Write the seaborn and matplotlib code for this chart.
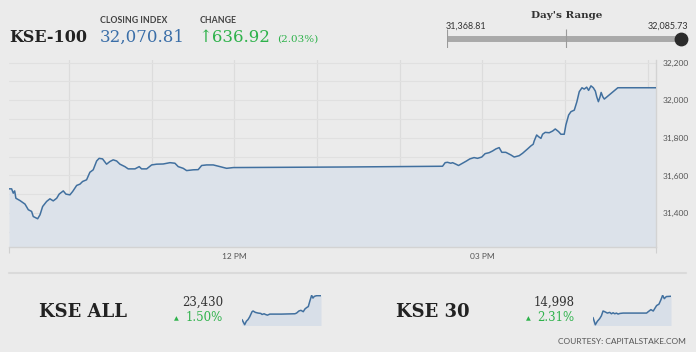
import matplotlib
matplotlib.use("Agg")
import matplotlib.pyplot as plt
from matplotlib.lines import Line2D
from matplotlib.patches import Rectangle
from matplotlib.ticker import FuncFormatter, MultipleLocator
import seaborn as sns
import pandas as pd

# ---------------- data ----------------
# KSE-100 intraday, minutes after 09:00
kse100_minutes = [
    16.5, 18.4, 19.6, 20.6, 21.5, 24.4, 28.1, 30.5, 32.9, 34.1, 37.3, 39.0, 40.9, 43.8,
    46.2, 48.6, 51.1, 52.9, 55.9, 57.8, 60.7, 62.7, 65.6, 68.0, 69.9, 72.8, 75.2, 77.6,
    80.1, 81.9, 84.4, 87.3, 89.7, 92.1, 94.6, 97.0, 100.6, 103.0, 107.9, 111.0, 112.7,
    116.4, 120.0, 123.6, 128.4, 133.3, 136.9, 139.3, 142.9, 145.4, 150.2, 153.8, 156.3,
    159.9, 164.7, 169.6, 174.4, 179.3,
    261.0, 331.1, 333.0, 334.7, 337.1, 338.4, 340.8, 342.7, 345.6, 348.5, 350.9, 354.0,
    356.5, 359.6, 362.0, 364.9, 367.4, 369.8, 372.2, 374.1, 377.0, 380.7, 383.1, 386.7,
    389.2, 392.8, 395.2, 396.9, 397.6, 399.4, 400.8, 402.5, 403.7, 405.6, 408.5, 411.0,
    412.9, 415.3, 417.0, 419.4, 420.6, 422.6, 424.3, 426.7, 428.6, 430.3, 432.3, 433.9,
    435.7, 437.1, 438.8, 440.5, 442.0, 443.0, 444.2, 445.4, 446.2, 447.4, 448.5, 458.3, 486.0,
]
kse100_values = [
    31529, 31529, 31506, 31518, 31479, 31467, 31448, 31418, 31409, 31382, 31370, 31391,
    31435, 31462, 31476, 31465, 31479, 31501, 31518, 31501, 31497, 31515, 31547, 31554,
    31568, 31577, 31617, 31630, 31677, 31691, 31688, 31660, 31674, 31683, 31677, 31660,
    31647, 31635, 31635, 31647, 31635, 31635, 31656, 31660, 31661, 31668, 31665, 31647,
    31638, 31626, 31630, 31631, 31653, 31656, 31656, 31647, 31638, 31642,
    31645, 31649, 31668, 31670, 31665, 31668, 31660, 31653, 31665, 31677, 31688, 31695,
    31691, 31698, 31716, 31721, 31730, 31741, 31748, 31723, 31723, 31709, 31698, 31705,
    31718, 31741, 31757, 31766, 31783, 31815, 31806, 31797, 31819, 31829, 31827, 31836,
    31847, 31833, 31819, 31819, 31868, 31921, 31939, 31947, 31992, 32045, 32066, 32059,
    32069, 32052, 32076, 32066, 32048, 32018, 31992, 32018, 32041, 32018, 32006, 32066, 32066,
]

# sparklines
kseall_minutes = [16.5, 32.4, 42.4, 52.3, 62.3, 76.2, 82.2, 96.1, 112.0, 127.9, 135.9, 147.8,
                  155.8, 167.7, 181.6, 201.5, 251.3, 330.8, 340.8, 354.7, 366.6, 380.6, 390.5,
                  400.4, 410.4, 420.3, 430.3, 438.3, 446.2, 460.1, 486.0]
kseall_values = [23084, 23010, 23060, 23084, 23124, 23198, 23208, 23188, 23178, 23173, 23158,
                 23168, 23158, 23148, 23163, 23163, 23163, 23168, 23178, 23208, 23218, 23198,
                 23237, 23257, 23272, 23356, 23435, 23395, 23420, 23430, 23430]
kse30_minutes = [16.5, 30.6, 42.7, 56.8, 66.9, 77.0, 87.0, 103.1, 117.3, 127.3, 137.4, 147.5,
                 157.6, 167.6, 177.7, 197.9, 268.4, 338.9, 349.0, 365.1, 379.2, 389.3, 399.4,
                 413.5, 425.5, 435.6, 445.7, 457.8, 486.0]
kse30_values = [14659, 14544, 14599, 14642, 14686, 14763, 14752, 14730, 14741, 14719, 14735,
                14719, 14730, 14714, 14724, 14730, 14730, 14730, 14752, 14785, 14763, 14807,
                14850, 14872, 14943, 15014, 14960, 14993, 14998]

day_low, day_high, close_value = 31368.81, 32085.73, 32070.81
hour_ticks = [60, 120, 180, 240, 300, 360, 420, 480]
hour_labels = ["", "", "12 PM", "", "", "03 PM", "", ""]
y_ticks = [31400, 31600, 31800, 32000, 32200]

# ---------------- style ----------------
BG = "#ebebeb"
LINE = "#41709f"
FILL = "#dce2ea"
GREEN = "#2eb24b"
BLUE = "#3a6ea8"
GRID = "#dcdcdc"

sns.set_theme(style="white", rc={"axes.facecolor": BG, "figure.facecolor": BG})

W, H = 696, 356
fig = plt.figure(figsize=(W / 100, H / 100), dpi=100)


def px_axes(x0, y0, x1, y1):
    return fig.add_axes([x0 / W, 1 - y1 / H, (x1 - x0) / W, (y1 - y0) / H])


def txt(x, y, s, **kw):
    fig.text(x / W, 1 - y / H, s, va="baseline", **kw)


# ---------------- main chart ----------------
ax = px_axes(9, 59.7, 656, 247)
df = pd.DataFrame({"minute": kse100_minutes, "value": kse100_values})
ymin, ymax = 31220, 32215
ax.fill_between(df["minute"], df["value"], ymin, color=FILL, lw=0, zorder=1)
sns.lineplot(data=df, x="minute", y="value", ax=ax, color=LINE, linewidth=1.1, zorder=3)
ax.set_xlim(df["minute"].min(), df["minute"].max())
ax.set_ylim(ymin, ymax)
ax.set_xlabel("")
ax.set_ylabel("")

ax.set_xticks(hour_ticks)
ax.set_xticklabels(hour_labels)
ax.set_xticks([df["minute"].min(), df["minute"].max()], minor=True)
ax.tick_params(axis="x", which="major", length=0, pad=4, labelsize=6, labelcolor="#555")
ax.tick_params(axis="x", which="minor", length=4, width=0.8, color="#d0d0d0", bottom=True)
for lab in ax.get_xticklabels():
    lab.set_family("Lato")

ax.yaxis.tick_right()
ax.set_yticks(y_ticks)
ax.yaxis.set_minor_locator(MultipleLocator(100))
ax.yaxis.set_major_formatter(FuncFormatter(lambda v, p: f"{int(v):,}"))
ax.tick_params(axis="y", which="both", length=0, pad=5, labelsize=6, labelcolor="#555")
for lab in ax.get_yticklabels():
    lab.set_family("Lato")

ax.grid(True, axis="x", which="major", color=GRID, lw=0.9)
ax.grid(True, axis="y", which="both", color="#e0e0e0", lw=0.8)
ax.set_axisbelow(True)
for side in ["top", "left"]:
    ax.spines[side].set_visible(False)
for side in ["right", "bottom"]:
    ax.spines[side].set_color("#d3d3d3")
    ax.spines[side].set_linewidth(1.0)

# ---------------- header ----------------
SERIF = ["DejaVu Serif", "DejaVu Sans"]
txt(9, 41.7, "KSE-100", family=SERIF, weight="bold", size=11.5, color="#222")
txt(100, 22.7, "CLOSING INDEX", family="Lato", weight="bold", size=6.3, color="#444")
txt(100, 42.3, "32,070.81", family=SERIF, size=12, color=BLUE)
txt(200, 22.7, "CHANGE", family="Lato", weight="bold", size=6.3, color="#444")
txt(198, 42.3, "\u2191636.92", family=SERIF, size=12, color=GREEN)
txt(277, 41.5, "(2.03%)", family=SERIF, size=7.5, color=GREEN)

txt(566.5, 18, "Day's Range", family=SERIF, weight="bold", size=7.5, color="#333", ha="center")
txt(446, 28.3, f"{day_low:,.2f}", family="Lato", size=6.5, color="#333")
txt(688, 28.3, f"{day_high:,.2f}", family="Lato", size=6.5, color="#333", ha="right")

rax = px_axes(446.7, 29, 686, 48)
rax.set_xlim(day_low, day_high)
rax.set_ylim(0, 1)
rax.axis("off")
rax.hlines(0.5, day_low, day_high, color="#a9a9a9", lw=4.3)
rax.vlines([day_low, (day_low + day_high) / 2, day_high], 0, 1, color="#9a9a9a", lw=0.8)
rax.scatter([close_value], [0.5], s=80, color="#2b2b2b", zorder=5, clip_on=False)

# ---------------- bottom panel ----------------
fig.add_artist(Line2D([9 / W, 686 / W], [1 - 273 / H, 1 - 273 / H], color="#dadada", lw=1.5))
fig.add_artist(Rectangle((0, 0), 1, 4 / H, transform=fig.transFigure, color="white", lw=0))


def sparkline(x0, x1, minutes, values):
    sax = px_axes(x0, 294.5, x1, 325.5)
    sdf = pd.DataFrame({"minute": minutes, "value": values})
    lo = min(values) - 12
    sax.fill_between(sdf["minute"], sdf["value"], lo, color="#d8dfe8", lw=0)
    sns.lineplot(data=sdf, x="minute", y="value", ax=sax, color=LINE, linewidth=1.1)
    sax.set_xlim(min(minutes), max(minutes))
    sax.set_ylim(lo, max(values) + 12)
    sax.axis("off")


txt(39, 316.7, "KSE ALL", family=SERIF, weight="bold", size=13, color="#222")
txt(223, 306, "23,430", family=SERIF, size=8.5, color="#333", ha="right")
txt(174, 320, "\u25b2", family="DejaVu Sans", size=4.5, color=GREEN)
txt(223, 320.7, "1.50%", family=SERIF, size=8.5, color=GREEN, ha="right")
sparkline(242, 321, kseall_minutes, kseall_values)

txt(396, 316.7, "KSE 30", family=SERIF, weight="bold", size=13, color="#222")
txt(575, 306, "14,998", family=SERIF, size=8.5, color="#333", ha="right")
txt(526, 320, "\u25b2", family="DejaVu Sans", size=4.5, color=GREEN)
txt(574, 320.7, "2.31%", family=SERIF, size=8.5, color=GREEN, ha="right")
sparkline(593, 671, kse30_minutes, kse30_values)

txt(686, 344, "COURTESY: CAPITALSTAKE.COM", family="Lato", size=6, color="#555", ha="right")

fig.savefig("out.png", dpi=100, facecolor=BG)
